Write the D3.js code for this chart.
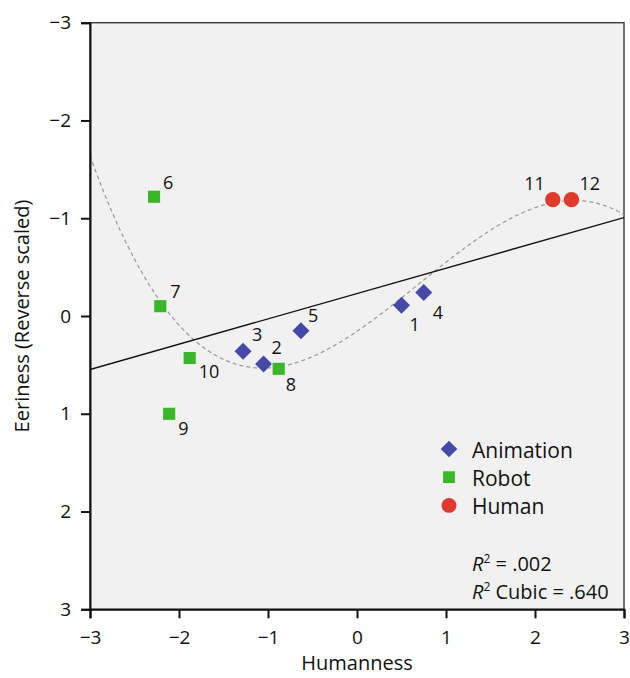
<!DOCTYPE html>
<html>
<head>
<meta charset="utf-8">
<script src="https://cdn.jsdelivr.net/npm/d3@7"></script>
<style>
	body { margin: 0; background: #fff; }
	text { font-family: "Open Sans", sans-serif; fill: #111; }
</style>
</head>
<body>
<div id="chart"></div>
<script>
/*
	Uncanny valley scatter: eeriness vs humanness, linear + cubic fit.
*/

var ids = [1, 2, 3, 4, 5, 6, 7, 8, 9, 10, 11, 12];
var humanness = [0.50, -1.05, -1.28, 0.75, -0.63, -2.28, -2.21, -0.88, -2.11, -1.88, 2.20, 2.41];
var eeriness = [-0.11, 0.49, 0.36, -0.24, 0.15, -1.22, -0.10, 0.54, 1.00, 0.43, -1.19, -1.19];
var groups = ['Animation', 'Animation', 'Animation', 'Animation', 'Animation',
	'Robot', 'Robot', 'Robot', 'Robot', 'Robot', 'Human', 'Human'];

var categories = ['Animation', 'Robot', 'Human'];
var xTicks = [-3, -2, -1, 0, 1, 2, 3];
var yTicks = [-3, -2, -1, 0, 1, 2, 3];
var fitLabels = [' = .002', ' Cubic = .640'];

var colors = {
	'Animation': '#4549a8',
	'Robot': '#3bb52a',
	'Human': '#e03a2e'
};

// where each point label sits relative to its marker
var labelPos = {
	1: [8, 26, 'start'], 2: [8, -10, 'start'], 3: [9, -10, 'start'],
	4: [9, 26, 'start'], 5: [7, -9, 'start'], 6: [9, -8, 'start'],
	7: [10, -8, 'start'], 8: [7, 22, 'start'], 9: [9, 21, 'start'],
	10: [9, 20, 'start'], 11: [-8, -10, 'end'], 12: [8, -10, 'start']
};

var width = 630, height = 678;
var plotLeft = 90, plotRight = 624, plotTop = 22.7, plotBottom = 609.3;

var points = ids.map(function(id, i){
	return {id: id, x: humanness[i], y: eeriness[i], group: groups[i]};
});

var x = d3.scaleLinear().domain([-3, 3]).range([plotLeft, plotRight]);
var y = d3.scaleLinear().domain([-3, 3]).range([plotTop, plotBottom]);

var svg = d3.select('#chart').append('svg')
	.attr('width', width)
	.attr('height', height);

svg.append('defs').append('clipPath')
	.attr('id', 'plot-clip')
	.append('rect')
	.attr('x', plotLeft).attr('y', plotTop)
	.attr('width', plotRight - plotLeft).attr('height', plotBottom - plotTop);

svg.append('rect')
	.attr('x', plotLeft).attr('y', plotTop)
	.attr('width', plotRight - plotLeft).attr('height', plotBottom - plotTop)
	.attr('fill', '#f1f1f1')
	.attr('stroke', '#444')
	.attr('stroke-width', 1.5);

// least squares polynomial fit
function polyFit(xs, ys, degree) {
	var n = degree + 1;
	var A = [], i, j, k;
	for (i = 0; i < n; i++) {
		A.push([]);
		for (j = 0; j < n; j++) {
			A[i].push(d3.sum(xs, function(v){ return Math.pow(v, i + j); }));
		}
		A[i].push(d3.sum(xs, function(v, idx){ return Math.pow(v, i) * ys[idx]; }));
	}
	for (i = 0; i < n; i++) {
		var p = i;
		for (k = i + 1; k < n; k++) if (Math.abs(A[k][i]) > Math.abs(A[p][i])) p = k;
		var tmp = A[i]; A[i] = A[p]; A[p] = tmp;
		for (k = i + 1; k < n; k++) {
			var f = A[k][i] / A[i][i];
			for (j = i; j <= n; j++) A[k][j] -= f * A[i][j];
		}
	}
	var c = new Array(n);
	for (i = n - 1; i >= 0; i--) {
		var s = A[i][n];
		for (j = i + 1; j < n; j++) s -= A[i][j] * c[j];
		c[i] = s / A[i][i];
	}
	return function(v){
		return d3.sum(c, function(ci, idx){ return ci * Math.pow(v, idx); });
	};
}

var linFit = polyFit(humanness, eeriness, 1);
var cubicFit = polyFit(humanness, eeriness, 3);

var fits = svg.append('g').attr('clip-path', 'url(#plot-clip)');

var xs = d3.range(-3, 3.0001, 0.02);

fits.append('path')
	.attr('fill', 'none')
	.attr('stroke', '#999')
	.attr('stroke-width', 1.2)
	.attr('stroke-dasharray', '4,3')
	.attr('d', d3.line()
		.x(function(d){ return x(d); })
		.y(function(d){ return y(cubicFit(d)); })(xs));

fits.append('path')
	.attr('fill', 'none')
	.attr('stroke', '#111')
	.attr('stroke-width', 1.4)
	.attr('d', d3.line()
		.x(function(d){ return x(d); })
		.y(function(d){ return y(linFit(d)); })([-3, 3]));

// axes
var xAxis = svg.append('g')
	.attr('transform', 'translate(0,' + plotBottom + ')')
	.call(d3.axisBottom(x).tickValues(xTicks).tickSize(9).tickPadding(6).tickFormat(d3.format('d')));

var yAxis = svg.append('g')
	.attr('transform', 'translate(' + plotLeft + ',0)')
	.call(d3.axisLeft(y).tickValues(yTicks).tickSize(9).tickPadding(10).tickFormat(d3.format('d')));

[xAxis, yAxis].forEach(function(ax){
	ax.select('.domain').attr('stroke', '#111').attr('stroke-width', 2);
	ax.selectAll('.tick line').attr('stroke', '#111').attr('stroke-width', 2);
	ax.selectAll('.tick text')
		.style('font-family', '"Open Sans", sans-serif')
		.style('font-size', '19px')
		.attr('fill', '#111');
});
xAxis.selectAll('.tick text').attr('dy', '1.05em');

svg.append('text')
	.attr('x', (plotLeft + plotRight) / 2)
	.attr('y', 670)
	.attr('text-anchor', 'middle')
	.style('font-size', '20px')
	.text('Humanness');

svg.append('text')
	.attr('transform', 'translate(29,' + ((plotTop + plotBottom) / 2) + ') rotate(-90)')
	.attr('text-anchor', 'middle')
	.style('font-size', '20px')
	.text('Eeriness (Reverse scaled)');

// markers
function drawMarker(sel, group, scale) {
	scale = scale || 1;
	if (group === 'Animation') {
		sel.append('path')
			.attr('d', d3.symbol().type(d3.symbolSquare).size(145 * scale)())
			.attr('transform', 'rotate(45)')
			.attr('fill', colors[group]);
	} else if (group === 'Robot') {
		sel.append('path')
			.attr('d', d3.symbol().type(d3.symbolSquare).size(172 * scale)())
			.attr('fill', colors[group])
			.attr('stroke', '#fff')
			.attr('stroke-width', 0.8);
	} else {
		sel.append('path')
			.attr('d', d3.symbol().type(d3.symbolCircle).size(184 * scale)())
			.attr('fill', colors[group]);
	}
}

var pts = svg.append('g').selectAll('g')
	.data(points)
	.join('g')
	.attr('transform', function(d){ return 'translate(' + x(d.x) + ',' + y(d.y) + ')'; });

pts.each(function(d){ drawMarker(d3.select(this), d.group); });

pts.append('text')
	.attr('x', function(d){ return labelPos[d.id][0]; })
	.attr('y', function(d){ return labelPos[d.id][1]; })
	.attr('text-anchor', function(d){ return labelPos[d.id][2]; })
	.style('font-size', '18px')
	.text(function(d){ return d.id; });

// legend
var legend = svg.append('g').attr('transform', 'translate(449,449)');
var items = legend.selectAll('g')
	.data(categories)
	.join('g')
	.attr('transform', function(d, i){ return 'translate(0,' + (i * 28.2) + ')'; });

items.each(function(d){ drawMarker(d3.select(this), d, 0.95); });

items.append('text')
	.attr('x', 23)
	.attr('y', 9)
	.style('font-size', '21px')
	.text(function(d){ return d; });

// fit statistics
var stats = svg.append('g');
stats.selectAll('text')
	.data(fitLabels)
	.join('text')
	.attr('x', 472)
	.attr('y', function(d, i){ return 571 + i * 27.5; })
	.style('font-size', '20px')
	.each(function(d){
		var t = d3.select(this);
		t.append('tspan').style('font-style', 'italic').text('R');
		t.append('tspan').attr('dy', -8).style('font-size', '12px').text('2');
		t.append('tspan').attr('dy', 8).text(d);
	});
</script>
</body>
</html>
